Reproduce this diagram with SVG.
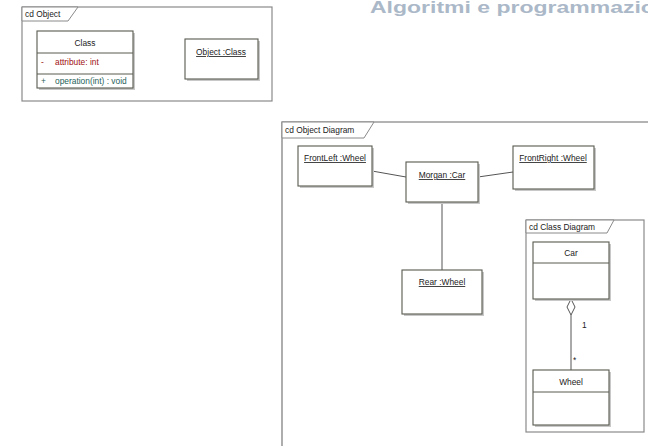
<svg xmlns="http://www.w3.org/2000/svg" width="648" height="446" viewBox="0 0 648 446">
  <style>
    .frame { fill: #fff; stroke: #8a8a8a; stroke-width: 1.2; }
    .tab { fill: #fff; stroke: #8a8a8a; stroke-width: 1; }
    .box { fill: #fff; stroke: #5a5a50; stroke-width: 1.1; }
    .shadow { fill: #c8c8c8; }
    .sep { stroke: #5a5a50; stroke-width: 1; }
    .conn { stroke: #555; stroke-width: 1; fill: none; }
    text { font-family: "Liberation Sans", Arial, sans-serif; font-size: 8.4px; fill: #222; }
    .c { text-anchor: middle; }
    .u { text-decoration: underline; }
    .attr { fill: #a01010; }
    .op { fill: #1f5f5a; }
    .title { font-size: 23px; font-weight: bold; fill: #abb8c8; }
  </style>

  <rect width="648" height="446" fill="#fff"/>

  <text class="title" transform="translate(370,13) scale(1,0.7)">Algoritmi e programmazione</text>

  <!-- cd Object frame -->
  <g id="frame-object">
    <rect class="frame" x="22" y="7" width="250" height="94"/>
    <path class="tab" d="M22,7 H78 L68,21 H22 Z"/>
    <text x="25" y="17">cd Object</text>
  </g>

  <g id="class-node">
    <rect class="shadow" x="39" y="33" width="96" height="57"/>
    <rect class="box" x="37" y="31" width="96" height="57"/>
    <line class="sep" x1="37" y1="53" x2="133" y2="53"/>
    <line class="sep" x1="37" y1="74" x2="133" y2="74"/>
    <text class="c" x="85" y="46">Class</text>
    <text class="attr" x="41" y="65">-</text>
    <text class="attr" x="55" y="65">attribute:  int</text>
    <text class="op" x="41" y="84">+</text>
    <text class="op" x="55" y="84">operation(int) : void</text>
  </g>

  <g id="object-class-node">
    <rect class="shadow" x="187" y="41" width="73" height="40"/>
    <rect class="box" x="185" y="39" width="73" height="40"/>
    <text class="c u" x="221" y="55">Object :Class</text>
  </g>

  <!-- cd Object Diagram frame (runs off the right and bottom edges) -->
  <g id="frame-object-diagram">
    <path class="frame" d="M660,122 H282 V460" style="stroke-width:1.6;stroke:#9a9a9a"/>
    <path class="tab" d="M282,122 H374 L364,138 H282 Z"/>
    <text x="285" y="133">cd Object Diagram</text>
  </g>

  <g id="connectors">
    <line class="conn" x1="372" y1="171" x2="406" y2="177"/>
    <line class="conn" x1="478" y1="177" x2="513" y2="172"/>
    <line class="conn" x1="442" y1="202" x2="442" y2="270"/>
  </g>

  <g id="frontleft-node">
    <rect class="shadow" x="300" y="148" width="74" height="40"/>
    <rect class="box" x="298" y="146" width="74" height="40"/>
    <text class="c u" x="335" y="161">FrontLeft :Wheel</text>
  </g>

  <g id="morgan-node">
    <rect class="shadow" x="408" y="164" width="72" height="40"/>
    <rect class="box" x="406" y="162" width="72" height="40"/>
    <text class="c u" x="442" y="178">Morgan :Car</text>
  </g>

  <g id="frontright-node">
    <rect class="shadow" x="515" y="148" width="81" height="43"/>
    <rect class="box" x="513" y="146" width="81" height="43"/>
    <text class="c u" x="553" y="161">FrontRight :Wheel</text>
  </g>

  <g id="rear-node">
    <rect class="shadow" x="404" y="272" width="80" height="44"/>
    <rect class="box" x="402" y="270" width="80" height="44"/>
    <text class="c u" x="442" y="285">Rear :Wheel</text>
  </g>

  <!-- cd Class Diagram frame -->
  <g id="frame-class-diagram">
    <rect class="frame" x="526" y="220" width="118" height="212"/>
    <path class="tab" d="M526,220 H614 L607,233 H526 Z"/>
    <text x="529" y="230">cd Class Diagram</text>
  </g>

  <g id="aggregation">
    <line class="conn" x1="571" y1="315" x2="571" y2="370"/>
    <path d="M571,299 L575,307 L571,315 L567,307 Z" fill="#fff" stroke="#555" stroke-width="1"/>
    <text x="582" y="328">1</text>
    <text x="573" y="363">*</text>
  </g>

  <g id="car-node">
    <rect class="shadow" x="535" y="244" width="76" height="57"/>
    <rect class="box" x="533" y="242" width="76" height="57"/>
    <line class="sep" x1="533" y1="263" x2="609" y2="263"/>
    <text class="c" x="571" y="256">Car</text>
  </g>

  <g id="wheel-node">
    <rect class="shadow" x="535" y="372" width="76" height="55"/>
    <rect class="box" x="533" y="370" width="76" height="55"/>
    <line class="sep" x1="533" y1="392" x2="609" y2="392"/>
    <text class="c" x="571" y="385">Wheel</text>
  </g>
</svg>
